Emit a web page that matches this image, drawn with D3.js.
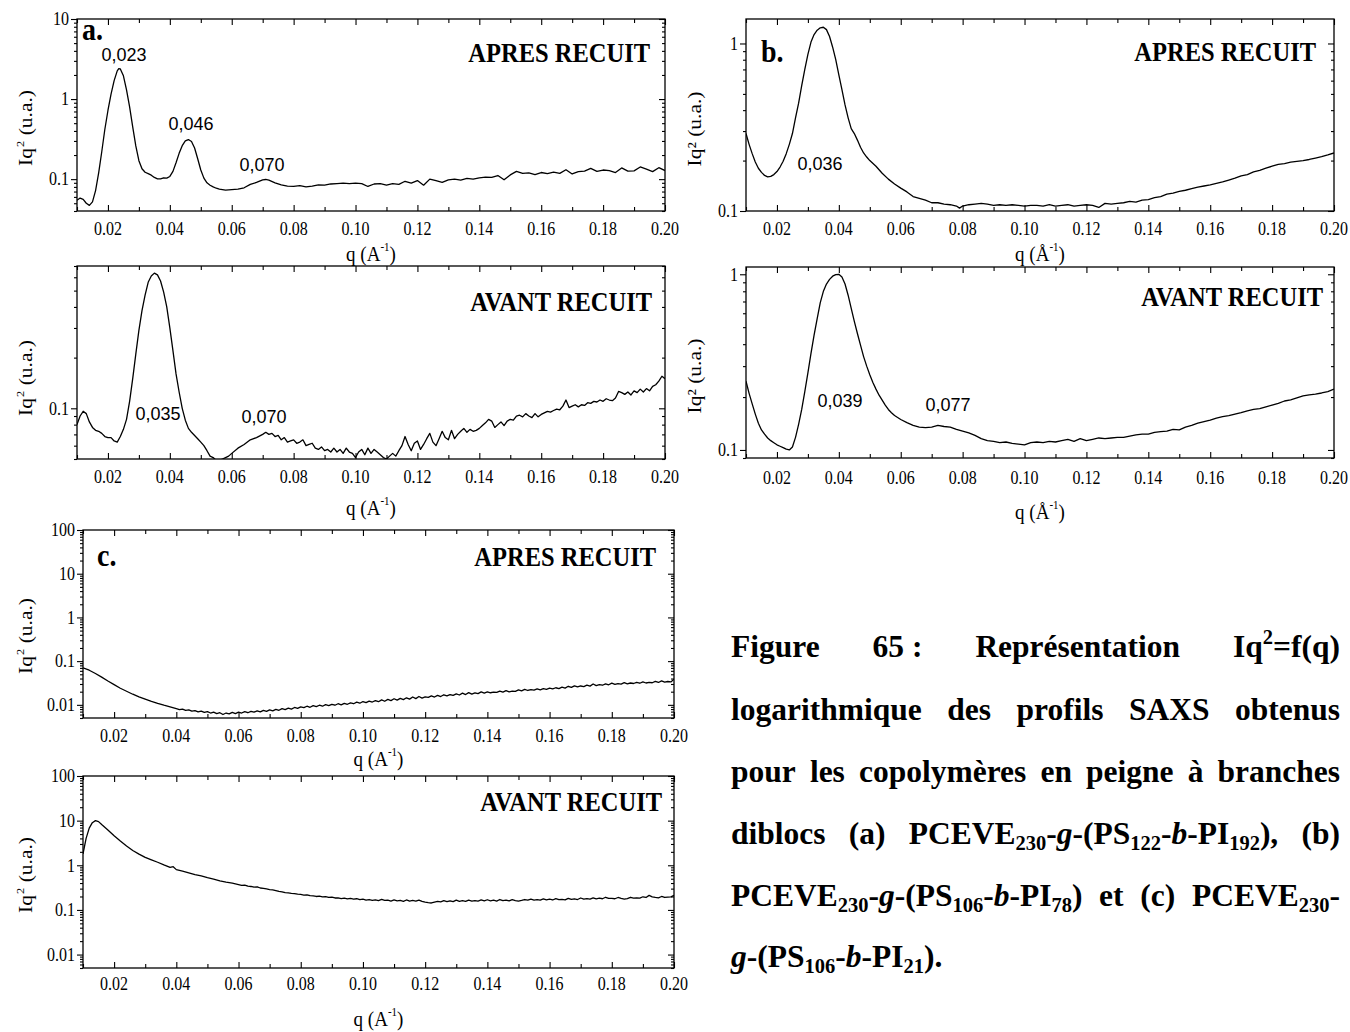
<!DOCTYPE html>
<html><head><meta charset="utf-8">
<script src="https://cdn.jsdelivr.net/npm/d3@7"></script>
<style>body{margin:0;background:#fff}</style></head>
<body>
<svg id="chart" width="1350" height="1032"></svg>
<script>
// ---------------- DATA ----------------
const qDomain = [0.01, 0.20];
const xMajorTicks = [0.02,0.04,0.06,0.08,0.10,0.12,0.14,0.16,0.18,0.20];
const xTickLabels = ["0.02","0.04","0.06","0.08","0.10","0.12","0.14","0.16","0.18","0.20"];
const xMinorTicks = [0.01,0.03,0.05,0.07,0.09,0.11,0.13,0.15,0.17,0.19];

// (a) PCEVE230-g-(PS122-b-PI192) après recuit : [q, Iq²]
const aApres = [[0.010,0.0545],[0.011,0.058],[0.012,0.056],[0.013,0.050],[0.014,0.047],[0.015,0.052],[0.016,0.072],[0.017,0.12],[0.018,0.22],[0.019,0.42],[0.020,0.72],[0.021,1.15],[0.022,1.70],[0.023,2.25],[0.0235,2.40],[0.024,2.38],[0.025,1.95],[0.026,1.30],[0.027,0.80],[0.028,0.45],[0.029,0.26],[0.030,0.17],[0.031,0.135],[0.032,0.122],[0.033,0.117],[0.034,0.112],[0.035,0.105],[0.036,0.101],[0.037,0.101],[0.038,0.104],[0.039,0.103],[0.040,0.108],[0.041,0.125],[0.042,0.160],[0.043,0.210],[0.044,0.262],[0.045,0.300],[0.046,0.312],[0.047,0.295],[0.048,0.245],[0.049,0.180],[0.050,0.130],[0.051,0.103],[0.052,0.090],[0.053,0.084],[0.054,0.080],[0.055,0.077],[0.056,0.075],[0.058,0.073],[0.060,0.074],[0.062,0.075],[0.064,0.078],[0.066,0.086],[0.068,0.091],[0.070,0.098],[0.071,0.099],[0.072,0.097],[0.074,0.090],[0.076,0.085],[0.078,0.082],[0.080,0.081],[0.082,0.083],[0.084,0.080],[0.086,0.082],[0.088,0.085],[0.090,0.084],[0.092,0.087],[0.094,0.088],[0.096,0.089],[0.098,0.088],[0.100,0.089],[0.102,0.088],[0.104,0.081],[0.106,0.087],[0.108,0.088],[0.110,0.084],[0.112,0.088],[0.114,0.086],[0.116,0.094],[0.118,0.089],[0.120,0.096],[0.122,0.084],[0.124,0.100],[0.126,0.096],[0.128,0.091],[0.130,0.098],[0.132,0.100],[0.134,0.097],[0.136,0.102],[0.138,0.100],[0.140,0.104],[0.142,0.106],[0.144,0.105],[0.146,0.111],[0.148,0.098],[0.150,0.113],[0.152,0.125],[0.154,0.118],[0.156,0.120],[0.158,0.114],[0.160,0.121],[0.162,0.117],[0.164,0.122],[0.166,0.118],[0.168,0.131],[0.170,0.116],[0.172,0.124],[0.174,0.126],[0.176,0.136],[0.178,0.125],[0.180,0.130],[0.182,0.128],[0.184,0.121],[0.186,0.138],[0.188,0.126],[0.190,0.127],[0.192,0.142],[0.194,0.133],[0.196,0.124],[0.198,0.139],[0.200,0.128]];

// (a) avant recuit
const aAvant = [[0.010,0.080],[0.011,0.090],[0.012,0.096],[0.013,0.093],[0.014,0.083],[0.015,0.077],[0.016,0.074],[0.017,0.073],[0.018,0.071],[0.019,0.068],[0.020,0.067],[0.021,0.067],[0.022,0.064],[0.023,0.063],[0.024,0.068],[0.025,0.075],[0.026,0.086],[0.027,0.110],[0.028,0.150],[0.029,0.210],[0.030,0.290],[0.031,0.380],[0.032,0.470],[0.033,0.560],[0.034,0.610],[0.035,0.635],[0.036,0.620],[0.037,0.570],[0.038,0.490],[0.039,0.400],[0.040,0.300],[0.041,0.220],[0.042,0.160],[0.043,0.125],[0.044,0.100],[0.045,0.085],[0.046,0.076],[0.047,0.072],[0.048,0.069],[0.049,0.066],[0.050,0.063],[0.051,0.060],[0.052,0.056],[0.053,0.052],[0.054,0.051],[0.055,0.049],[0.056,0.049],[0.057,0.050],[0.058,0.051],[0.059,0.052],[0.060,0.054],[0.062,0.058],[0.064,0.061],[0.066,0.065],[0.068,0.067],[0.070,0.070],[0.071,0.072],[0.072,0.070],[0.073,0.071],[0.074,0.068],[0.075,0.069],[0.076,0.065],[0.077,0.067],[0.078,0.063],[0.079,0.064],[0.080,0.065],[0.081,0.062],[0.082,0.063],[0.083,0.065],[0.084,0.060],[0.085,0.061],[0.086,0.062],[0.087,0.058],[0.088,0.057],[0.089,0.059],[0.090,0.056],[0.091,0.057],[0.092,0.055],[0.093,0.058],[0.094,0.055],[0.095,0.057],[0.096,0.054],[0.097,0.058],[0.098,0.055],[0.099,0.054],[0.100,0.051],[0.101,0.055],[0.102,0.057],[0.103,0.053],[0.104,0.058],[0.105,0.054],[0.106,0.057],[0.107,0.055],[0.108,0.053],[0.109,0.051],[0.110,0.050],[0.111,0.052],[0.112,0.054],[0.113,0.052],[0.114,0.056],[0.115,0.060],[0.116,0.068],[0.117,0.061],[0.118,0.056],[0.119,0.062],[0.120,0.064],[0.121,0.057],[0.122,0.061],[0.123,0.066],[0.124,0.071],[0.125,0.063],[0.126,0.060],[0.127,0.066],[0.128,0.073],[0.129,0.067],[0.130,0.065],[0.131,0.074],[0.132,0.066],[0.133,0.070],[0.134,0.073],[0.135,0.076],[0.136,0.072],[0.137,0.075],[0.138,0.073],[0.139,0.074],[0.140,0.076],[0.141,0.079],[0.142,0.082],[0.143,0.086],[0.144,0.084],[0.145,0.077],[0.146,0.080],[0.147,0.083],[0.148,0.079],[0.149,0.084],[0.150,0.086],[0.151,0.085],[0.152,0.090],[0.153,0.091],[0.154,0.089],[0.155,0.093],[0.156,0.090],[0.157,0.088],[0.158,0.093],[0.159,0.089],[0.160,0.092],[0.161,0.094],[0.162,0.096],[0.163,0.095],[0.164,0.097],[0.165,0.099],[0.166,0.098],[0.167,0.103],[0.168,0.112],[0.169,0.101],[0.170,0.103],[0.171,0.105],[0.172,0.102],[0.173,0.105],[0.174,0.104],[0.175,0.108],[0.176,0.107],[0.177,0.110],[0.178,0.109],[0.179,0.112],[0.180,0.110],[0.181,0.114],[0.182,0.112],[0.183,0.111],[0.184,0.115],[0.185,0.126],[0.186,0.124],[0.187,0.121],[0.188,0.125],[0.189,0.120],[0.190,0.127],[0.191,0.124],[0.192,0.130],[0.193,0.125],[0.194,0.131],[0.195,0.127],[0.196,0.135],[0.197,0.138],[0.198,0.145],[0.199,0.155],[0.200,0.150]];

// (b) PCEVE230-g-(PS106-b-PI78) après recuit
const bApres = [[0.010,0.29],[0.011,0.25],[0.012,0.22],[0.013,0.196],[0.014,0.180],[0.015,0.170],[0.016,0.163],[0.017,0.160],[0.018,0.161],[0.019,0.165],[0.020,0.172],[0.021,0.183],[0.022,0.198],[0.023,0.22],[0.024,0.25],[0.025,0.29],[0.026,0.36],[0.027,0.44],[0.028,0.56],[0.029,0.70],[0.030,0.86],[0.031,1.02],[0.032,1.13],[0.033,1.20],[0.034,1.24],[0.035,1.25],[0.036,1.21],[0.037,1.10],[0.038,0.95],[0.039,0.80],[0.040,0.65],[0.041,0.53],[0.042,0.43],[0.043,0.36],[0.044,0.31],[0.045,0.29],[0.046,0.265],[0.047,0.24],[0.048,0.222],[0.049,0.210],[0.050,0.200],[0.052,0.185],[0.054,0.168],[0.056,0.155],[0.058,0.145],[0.060,0.137],[0.062,0.130],[0.064,0.122],[0.066,0.119],[0.068,0.116],[0.070,0.112],[0.072,0.112],[0.074,0.110],[0.076,0.109],[0.078,0.107],[0.079,0.104],[0.080,0.107],[0.082,0.109],[0.084,0.110],[0.086,0.111],[0.088,0.110],[0.090,0.108],[0.092,0.109],[0.094,0.108],[0.096,0.109],[0.098,0.108],[0.100,0.107],[0.102,0.108],[0.104,0.108],[0.106,0.107],[0.108,0.109],[0.110,0.107],[0.112,0.108],[0.114,0.109],[0.116,0.107],[0.118,0.108],[0.120,0.109],[0.122,0.108],[0.124,0.105],[0.126,0.111],[0.128,0.110],[0.130,0.111],[0.132,0.112],[0.134,0.114],[0.136,0.113],[0.138,0.116],[0.140,0.117],[0.142,0.120],[0.144,0.122],[0.146,0.126],[0.148,0.128],[0.150,0.131],[0.152,0.133],[0.154,0.136],[0.156,0.139],[0.158,0.141],[0.160,0.143],[0.162,0.146],[0.164,0.149],[0.166,0.153],[0.168,0.157],[0.170,0.162],[0.172,0.165],[0.174,0.171],[0.176,0.175],[0.178,0.180],[0.180,0.185],[0.182,0.190],[0.184,0.192],[0.186,0.196],[0.188,0.198],[0.190,0.200],[0.192,0.203],[0.194,0.207],[0.196,0.211],[0.198,0.216],[0.200,0.222]];

// (b) avant recuit
const bAvant = [[0.010,0.246],[0.011,0.21],[0.012,0.183],[0.013,0.160],[0.014,0.142],[0.015,0.130],[0.016,0.123],[0.017,0.117],[0.018,0.113],[0.019,0.110],[0.020,0.107],[0.021,0.105],[0.022,0.103],[0.023,0.101],[0.024,0.100],[0.025,0.104],[0.026,0.118],[0.027,0.140],[0.028,0.170],[0.029,0.215],[0.030,0.275],[0.031,0.355],[0.032,0.450],[0.033,0.560],[0.034,0.690],[0.035,0.800],[0.036,0.880],[0.037,0.935],[0.038,0.975],[0.039,0.995],[0.040,1.000],[0.041,0.965],[0.042,0.880],[0.043,0.760],[0.044,0.640],[0.045,0.540],[0.046,0.460],[0.047,0.395],[0.048,0.340],[0.049,0.300],[0.050,0.268],[0.051,0.242],[0.052,0.222],[0.053,0.205],[0.054,0.192],[0.055,0.180],[0.056,0.170],[0.057,0.163],[0.058,0.157],[0.060,0.149],[0.062,0.143],[0.064,0.138],[0.066,0.135],[0.068,0.134],[0.070,0.135],[0.072,0.138],[0.074,0.136],[0.076,0.135],[0.078,0.131],[0.080,0.128],[0.082,0.125],[0.084,0.121],[0.086,0.116],[0.088,0.113],[0.090,0.112],[0.092,0.110],[0.094,0.111],[0.096,0.109],[0.098,0.108],[0.100,0.107],[0.102,0.110],[0.104,0.111],[0.106,0.110],[0.108,0.112],[0.110,0.111],[0.112,0.113],[0.114,0.115],[0.116,0.112],[0.118,0.116],[0.120,0.113],[0.122,0.115],[0.124,0.117],[0.126,0.116],[0.128,0.117],[0.130,0.118],[0.132,0.118],[0.134,0.120],[0.136,0.122],[0.138,0.123],[0.140,0.123],[0.142,0.126],[0.144,0.127],[0.146,0.128],[0.148,0.131],[0.150,0.130],[0.152,0.135],[0.154,0.138],[0.156,0.142],[0.158,0.145],[0.160,0.148],[0.162,0.152],[0.164,0.155],[0.166,0.157],[0.168,0.160],[0.170,0.163],[0.172,0.167],[0.174,0.170],[0.176,0.172],[0.178,0.176],[0.180,0.180],[0.182,0.184],[0.184,0.190],[0.186,0.193],[0.188,0.198],[0.190,0.203],[0.192,0.206],[0.194,0.208],[0.196,0.211],[0.198,0.215],[0.200,0.222]];

// (c) PCEVE230-g-(PS106-b-PI21) après recuit
const cApres = [[0.010,0.070],[0.012,0.062],[0.014,0.052],[0.016,0.043],[0.018,0.035],[0.020,0.029],[0.022,0.024],[0.024,0.0205],[0.026,0.0175],[0.028,0.0152],[0.030,0.0135],[0.032,0.0120],[0.034,0.0108],[0.036,0.0098],[0.038,0.0090],
[0.040,0.0082],[0.041,0.0078],[0.042,0.0080],[0.043,0.0075],[0.044,0.0077],[0.045,0.0072],[0.046,0.0074],[0.047,0.0069],[0.048,0.0072],[0.049,0.0067],[0.050,0.0070],[0.051,0.0065],[0.052,0.0068],[0.053,0.0063],[0.054,0.0066],[0.055,0.0060],[0.056,0.0065],[0.057,0.0062],[0.058,0.0067],[0.059,0.0063],[0.060,0.0068],[0.061,0.0065],[0.062,0.0070],[0.063,0.0066],[0.064,0.0071],[0.065,0.0068],[0.066,0.0073],[0.067,0.0069],[0.068,0.0075],[0.069,0.0071],[0.070,0.0077],[0.071,0.0073],[0.072,0.0079],[0.073,0.0075],[0.074,0.0082],[0.075,0.0078],[0.076,0.0084],[0.077,0.0080],[0.078,0.0087],[0.079,0.0083],[0.080,0.0090],[0.081,0.0086],[0.082,0.0093],[0.083,0.0088],[0.084,0.0096],[0.085,0.0091],[0.086,0.0098],[0.087,0.0093],[0.088,0.0101],[0.089,0.0096],[0.090,0.0103],[0.091,0.0098],[0.092,0.0106],[0.093,0.0100],[0.094,0.0108],[0.095,0.0103],[0.096,0.0111],[0.097,0.0106],[0.098,0.0115],[0.099,0.0109],[0.100,0.0119],[0.101,0.0112],[0.102,0.0122],[0.103,0.0116],[0.104,0.0125],[0.105,0.0118],[0.106,0.0130],[0.107,0.0121],[0.108,0.0133],[0.109,0.0125],[0.110,0.0138],[0.111,0.0128],[0.112,0.0141],[0.113,0.0132],[0.114,0.0145],[0.115,0.0135],[0.116,0.0151],[0.117,0.0139],[0.118,0.0155],[0.119,0.0143],[0.120,0.0152],[0.121,0.0148],[0.122,0.0160],[0.123,0.0151],[0.124,0.0165],[0.125,0.0155],[0.126,0.0170],[0.127,0.0160],[0.128,0.0172],[0.129,0.0164],[0.130,0.0178],[0.131,0.0168],[0.132,0.0185],[0.133,0.0172],[0.134,0.0190],[0.135,0.0176],[0.136,0.0188],[0.137,0.0181],[0.138,0.0198],[0.139,0.0185],[0.140,0.0197],[0.141,0.0189],[0.142,0.0195],[0.143,0.0192],[0.144,0.0206],[0.145,0.0196],[0.146,0.0212],[0.147,0.0199],[0.148,0.0207],[0.149,0.0203],[0.150,0.0220],[0.151,0.0208],[0.152,0.0226],[0.153,0.0213],[0.154,0.0224],[0.155,0.0217],[0.156,0.0232],[0.157,0.0221],[0.158,0.0236],[0.159,0.0226],[0.160,0.0241],[0.161,0.0231],[0.162,0.0246],[0.163,0.0236],[0.164,0.0254],[0.165,0.0242],[0.166,0.0266],[0.167,0.0250],[0.168,0.0272],[0.169,0.0257],[0.170,0.0270],[0.171,0.0262],[0.172,0.0283],[0.173,0.0268],[0.174,0.0300],[0.175,0.0275],[0.176,0.0290],[0.177,0.0281],[0.178,0.0303],[0.179,0.0288],[0.180,0.0314],[0.181,0.0295],[0.182,0.0306],[0.183,0.0299],[0.184,0.0321],[0.185,0.0303],[0.186,0.0316],[0.187,0.0308],[0.188,0.0328],[0.189,0.0312],[0.190,0.0334],[0.191,0.0316],[0.192,0.0326],[0.193,0.0320],[0.194,0.0344],[0.195,0.0325],[0.196,0.0352],[0.197,0.0330],[0.198,0.0342],[0.199,0.0335],[0.200,0.0385]];

// (c) avant recuit
const cAvant = [[0.010,1.8],[0.011,4.0],[0.012,6.8],[0.013,9.0],[0.014,10.0],[0.015,9.5],[0.016,8.2],[0.018,6.2],[0.020,4.6],[0.022,3.5],[0.024,2.7],[0.026,2.15],[0.028,1.78],[0.030,1.50],[0.032,1.32],[0.034,1.17],[0.036,1.02],[0.038,0.90],[0.039,0.93],[0.040,0.80],[0.042,0.74],[0.044,0.68],[0.046,0.62],[0.048,0.58],[0.050,0.53],[0.052,0.49],[0.054,0.45],[0.056,0.42],[0.058,0.40],
[0.060,0.37],[0.061,0.355],[0.062,0.36],[0.063,0.34],[0.064,0.335],[0.065,0.325],[0.066,0.33],[0.067,0.31],[0.068,0.305],[0.069,0.295],[0.070,0.285],[0.071,0.28],[0.072,0.27],[0.073,0.26],[0.074,0.255],[0.075,0.245],[0.076,0.24],[0.077,0.235],[0.078,0.232],[0.079,0.225],[0.080,0.222],[0.081,0.215],[0.082,0.218],[0.083,0.208],[0.084,0.207],[0.085,0.200],[0.086,0.204],[0.087,0.195],[0.088,0.198],[0.089,0.19],[0.090,0.193],[0.091,0.185],[0.092,0.186],[0.093,0.18],[0.094,0.184],[0.095,0.176],[0.096,0.181],[0.097,0.174],[0.098,0.178],[0.099,0.170],[0.100,0.174],[0.101,0.166],[0.102,0.171],[0.103,0.164],[0.104,0.168],[0.105,0.162],[0.106,0.172],[0.107,0.163],[0.108,0.166],[0.109,0.158],[0.110,0.167],[0.111,0.160],[0.112,0.163],[0.113,0.156],[0.114,0.167],[0.115,0.158],[0.116,0.163],[0.117,0.157],[0.118,0.166],[0.119,0.155],[0.120,0.150],[0.121,0.146],[0.122,0.143],[0.123,0.150],[0.124,0.156],[0.125,0.152],[0.126,0.161],[0.127,0.154],[0.128,0.160],[0.129,0.153],[0.130,0.166],[0.131,0.156],[0.132,0.161],[0.133,0.155],[0.134,0.165],[0.135,0.157],[0.136,0.162],[0.137,0.158],[0.138,0.167],[0.139,0.159],[0.140,0.169],[0.141,0.160],[0.142,0.165],[0.143,0.158],[0.144,0.171],[0.145,0.161],[0.146,0.166],[0.147,0.159],[0.148,0.170],[0.149,0.162],[0.150,0.157],[0.151,0.163],[0.152,0.171],[0.153,0.165],[0.154,0.174],[0.155,0.166],[0.156,0.170],[0.157,0.165],[0.158,0.177],[0.159,0.168],[0.160,0.174],[0.161,0.167],[0.162,0.179],[0.163,0.170],[0.164,0.172],[0.165,0.168],[0.166,0.182],[0.167,0.172],[0.168,0.177],[0.169,0.171],[0.170,0.185],[0.171,0.174],[0.172,0.180],[0.173,0.175],[0.174,0.187],[0.175,0.177],[0.176,0.184],[0.177,0.178],[0.178,0.192],[0.179,0.181],[0.180,0.182],[0.181,0.178],[0.182,0.190],[0.183,0.181],[0.184,0.174],[0.185,0.180],[0.186,0.192],[0.187,0.183],[0.188,0.187],[0.189,0.184],[0.190,0.197],[0.191,0.190],[0.192,0.212],[0.193,0.196],[0.194,0.190],[0.195,0.187],[0.196,0.200],[0.197,0.190],[0.198,0.194],[0.199,0.196],[0.200,0.212]];

// peak annotations (q values shown as labels)
const aApresPeaks = ["0,023","0,046","0,070"];
const aAvantPeaks = ["0,035","0,070"];
const bApresPeaks = ["0,036"];
const bAvantPeaks = ["0,039","0,077"];

// ---------------- LAYOUT ----------------
const SERIF = "'Liberation Serif','Times New Roman',Times,serif";
const SANS = "'Liberation Sans',Arial,Helvetica,sans-serif";
const K = 1.13; // vertical stretch of the serif lettering
const svg = d3.select('#chart');

const panels = [
 {data:aApres, x0:77, x1:665, y0:19, y1:211, dom:[0.04,10], major:[0.1,1,10], majorLab:["0.1","1","10"],
  tickY:229, xLabY:253, yLab:[25,128], title:"APRES RECUIT", titleX:650, titleY:62, letter:"a.", letterPos:[82,40],
  xunit:"A", sup:true, notes:[[124,61],[191,130],[262,171]], noteText:aApresPeaks},
 {data:aAvant, x0:77, x1:665, y0:266, y1:459, dom:[0.05,0.7], major:[0.1], majorLab:["0.1"],
  tickY:477, xLabY:507, yLab:[25,378], title:"AVANT RECUIT", titleX:652, titleY:311,
  xunit:"A", sup:true, notes:[[158,420],[264,423]], noteText:aAvantPeaks},
 {data:bApres, x0:746, x1:1334, y0:19, y1:211, dom:[0.1,1.4], major:[0.1,1], majorLab:["0.1","1"],
  tickY:229, xLabY:253, yLab:[694,129], title:"APRES RECUIT", titleX:1316, titleY:61, letter:"b.", letterPos:[761,62],
  xunit:"Å", sup:false, notes:[[820,170]], noteText:bApresPeaks},
 {data:bAvant, x0:746, x1:1334, y0:267, y1:458, dom:[0.09,1.1], major:[0.1,1], majorLab:["0.1","1"],
  tickY:478, xLabY:511, yLab:[694,376], title:"AVANT RECUIT", titleX:1323, titleY:306,
  xunit:"Å", sup:false, notes:[[840,407],[948,411]], noteText:bAvantPeaks},
 {data:cApres, x0:83, x1:674, y0:530, y1:718, dom:[0.005,100], major:[0.01,0.1,1,10,100], majorLab:["0.01","0.1","1","10","100"],
  tickY:736, xLabY:758, yLab:[25,636], title:"APRES RECUIT", titleX:656, titleY:566, letter:"c.", letterPos:[97,566],
  xunit:"A", sup:true, notes:[], noteText:[]},
 {data:cAvant, x0:83, x1:674, y0:776, y1:968, dom:[0.005,100], major:[0.01,0.1,1,10,100], majorLab:["0.01","0.1","1","10","100"],
  tickY:984, xLabY:1018, yLab:[25,875], title:"AVANT RECUIT", titleX:662, titleY:811,
  xunit:"A", sup:true, notes:[], noteText:[]}
];

function stretchText(g, x, y, opts){
  return g.append('text')
    .attr('transform', `translate(${x},${y}) ${opts.rot?`rotate(${opts.rot}) scale(${opts.k||1},1)`:`scale(1,${opts.k||1})`}`)
    .attr('font-family', opts.family||SERIF)
    .attr('font-size', opts.size)
    .attr('font-weight', opts.weight||'normal')
    .attr('text-anchor', opts.anchor||'start')
    .attr('fill','#000');
}

panels.forEach((p,i)=>{
  const x = d3.scaleLinear().domain(qDomain).range([p.x0,p.x1]);
  const y = d3.scaleLog().domain(p.dom).range([p.y1,p.y0]);
  const g = svg.append('g');
  const allY = y.ticks(20).filter(v=>v>=p.dom[0]*0.999 && v<=p.dom[1]*1.001);
  const minorY = allY.filter(v=>!p.major.some(m=>Math.abs(m-v)/m<1e-6));

  const axis = (gen, tx, ty) => g.append('g').attr('transform',`translate(${tx},${ty})`)
      .call(gen).call(s=>{s.select('.domain').remove(); s.selectAll('line').attr('stroke','#000').attr('stroke-width',1.1);});
  axis(d3.axisLeft(y).tickValues(p.major).tickSize(6).tickFormat(''), p.x0, 0);
  axis(d3.axisLeft(y).tickValues(minorY).tickSize(3).tickFormat(''), p.x0, 0);
  axis(d3.axisRight(y).tickValues(p.major).tickSize(-6).tickFormat(''), p.x1, 0);
  axis(d3.axisRight(y).tickValues(minorY).tickSize(-3).tickFormat(''), p.x1, 0);
  axis(d3.axisBottom(x).tickValues(xMajorTicks).tickSize(-6).tickFormat(''), 0, p.y1);
  axis(d3.axisBottom(x).tickValues(xMinorTicks).tickSize(-4).tickFormat(''), 0, p.y1);
  axis(d3.axisTop(x).tickValues(xMajorTicks).tickSize(-6).tickFormat(''), 0, p.y0);
  axis(d3.axisTop(x).tickValues(xMinorTicks).tickSize(-4).tickFormat(''), 0, p.y0);

  g.append('rect').attr('x',p.x0).attr('y',p.y0).attr('width',p.x1-p.x0).attr('height',p.y1-p.y0)
    .attr('fill','none').attr('stroke','#000').attr('stroke-width',1.3);

  const cid = 'clip'+i;
  svg.append('clipPath').attr('id',cid).append('rect')
    .attr('x',p.x0).attr('y',p.y0).attr('width',p.x1-p.x0).attr('height',p.y1-p.y0);
  g.append('path').datum(p.data).attr('clip-path',`url(#${cid})`)
    .attr('fill','none').attr('stroke','#000').attr('stroke-width',1.3).attr('stroke-linejoin','round')
    .attr('d', d3.line().x(d=>x(d[0])).y(d=>y(d[1])));

  xMajorTicks.forEach((t,j)=>{
    stretchText(g, x(t), p.tickY, {size:16, k:K, anchor:'middle'}).attr('dy','0.35em').text(xTickLabels[j]);
  });
  p.major.forEach((t,j)=>{
    stretchText(g, p.x0-8, y(t), {size:16, k:K, anchor:'end'}).attr('dy','0.35em').text(p.majorLab[j]);
  });
  const xt = stretchText(g, (p.x0+p.x1)/2, p.xLabY, {size:19, k:K, anchor:'middle'}).attr('dy','0.35em');
  xt.append('tspan').text(`q (${p.xunit}`);
  xt.append('tspan').attr('font-size',11).attr('dy',-8).text('-1');
  xt.append('tspan').attr('dy',8).text(')');
  const yt = stretchText(g, p.yLab[0], p.yLab[1], {size:19, k:K, anchor:'middle', rot:-90}).attr('dy','0.35em');
  if (p.sup){
    yt.append('tspan').text('Iq');
    yt.append('tspan').attr('font-size',11).attr('dy',-8).attr('dx',1).text('2');
    yt.append('tspan').attr('dy',8).text(' (u.a.)');
  } else {
    yt.append('tspan').text('Iq\u00B2 (u.a.)');
  }
  stretchText(g, p.titleX, p.titleY, {size:24.5, k:K, anchor:'end', weight:'bold'}).text(p.title);
  if (p.letter) stretchText(g, p.letterPos[0], p.letterPos[1], {size:28, k:1.1, weight:'bold'}).text(p.letter);
  p.notes.forEach((n,j)=>{
    g.append('text').attr('x',n[0]).attr('y',n[1]).attr('text-anchor','middle')
      .attr('font-family',SANS).attr('font-size',18).text(p.noteText[j]);
  });
});

// ---------------- CAPTION ----------------
const captionLines = [
 [[['Figure']],[['65 :']],[['Représentation']],[['Iq'],['2','sup'],['=f(q)']]],
 [[['logarithmique']],[['des']],[['profils']],[['SAXS']],[['obtenus']]],
 [[['pour']],[['les']],[['copolymères']],[['en']],[['peigne']],[['à']],[['branches']]],
 [[['diblocs']],[['(a)']],[['PCEVE'],['230','sub'],['-'],['g','it'],['-(PS'],['122','sub'],['-'],['b','it'],['-PI'],['192','sub'],['),']],[['(b)']]],
 [[['PCEVE'],['230','sub'],['-'],['g','it'],['-(PS'],['106','sub'],['-'],['b','it'],['-PI'],['78','sub'],[')']],[['et']],[['(c)']],[['PCEVE'],['230','sub'],['-']]],
 [[['g','it'],['-(PS'],['106','sub'],['-'],['b','it'],['-PI'],['21','sub'],[').']]]
];
const capLeft = 731, capRight = 1340, capFs = 31.5;
const capBase = [657, 720, 782, 844, 906, 967];
const capG = svg.append('g');
captionLines.forEach((words,li)=>{
  const nodes = words.map(w=>{
    const t = capG.append('text').attr('font-family',SERIF).attr('font-weight','bold')
      .attr('font-size',capFs).attr('y',capBase[li]).attr('fill','#000');
    let shift = 0;
    w.forEach(seg=>{
      const target = seg[1]==='sub' ? capFs*0.2 : seg[1]==='sup' ? -capFs*0.42 : 0;
      const ts = t.append('tspan').text(seg[0]);
      if (target!==shift) ts.attr('dy', target-shift);
      shift = target;
      if (seg[1]==='sub' || seg[1]==='sup') ts.attr('font-size', capFs*0.65);
      if (seg[1]==='it') ts.attr('font-style','italic');
    });
    return t;
  });
  const widths = nodes.map(n=>n.node().getComputedTextLength());
  const total = d3.sum(widths);
  const last = li===captionLines.length-1;
  const gap = last ? capFs*0.25 : (capRight-capLeft-total)/(nodes.length-1);
  let cx = capLeft;
  nodes.forEach((n,j)=>{ n.attr('x',cx); cx += widths[j]+gap; });
});
</script>
</body></html>
